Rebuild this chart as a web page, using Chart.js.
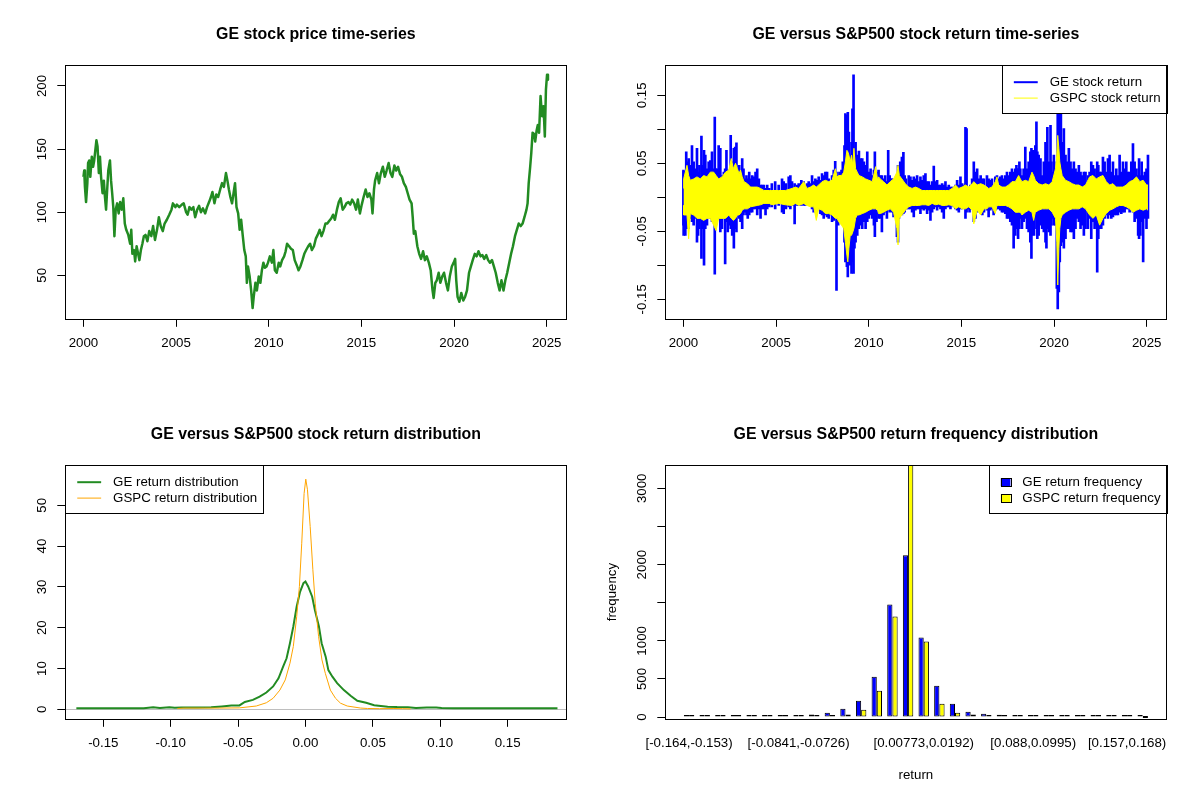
<!DOCTYPE html>
<html lang="en">
<head>
<meta charset="UTF-8">
<title>GE versus S&amp;P500</title>
<script src="https://cdn.jsdelivr.net/npm/chart.js"></script>
<style>
  body { margin: 0; background: #fff; }
  #wrap { position: relative; width: 1200px; height: 800px; }
  canvas { position: absolute; }
</style>
</head>
<body>
<div id="wrap">
  <canvas id="priceChart" width="600" height="400" style="left:0;top:0"></canvas>
  <canvas id="returnChart" width="600" height="400" style="left:600px;top:0"></canvas>
  <canvas id="densityChart" width="600" height="400" style="left:0;top:400px"></canvas>
  <canvas id="freqChart" width="600" height="400" style="left:600px;top:400px"></canvas>
</div>
<script>
// ---- data ----

// GE price (decimal year, price)
const priceYears = [
  2000.00,2000.04,2000.08,2000.12,2000.14,2000.21,2000.25,2000.31,2000.37,2000.45,
  2000.52,2000.58,2000.64,2000.70,2000.76,2000.83,2000.89,2000.95,2001.03,2001.10,
  2001.16,2001.22,2001.28,2001.34,2001.43,2001.49,2001.55,2001.61,2001.67,2001.74,
  2001.82,2001.90,2001.98,2002.07,2002.15,2002.23,2002.31,2002.42,2002.52,2002.58,
  2002.64,2002.73,2002.79,2002.87,2002.95,2003.02,2003.10,2003.18,2003.26,2003.35,
  2003.45,2003.55,2003.66,2003.76,2003.86,2003.97,2004.07,2004.17,2004.28,2004.38,
  2004.50,2004.63,2004.75,2004.83,2004.96,2005.04,2005.17,2005.31,2005.41,2005.54,
  2005.62,2005.72,2005.83,2005.93,2006.03,2006.14,2006.24,2006.34,2006.45,2006.57,
  2006.67,2006.78,2006.88,2006.96,2007.07,2007.17,2007.27,2007.38,2007.48,2007.58,
  2007.69,2007.77,2007.85,2007.93,2008.02,2008.10,2008.18,2008.26,2008.35,2008.43,
  2008.51,2008.60,2008.68,2008.76,2008.82,2008.88,2008.97,2009.05,2009.13,2009.19,
  2009.28,2009.36,2009.46,2009.55,2009.63,2009.71,2009.79,2009.88,2009.96,2010.06,
  2010.17,2010.25,2010.33,2010.43,2010.54,2010.62,2010.72,2010.83,2010.91,2010.99,
  2011.10,2011.20,2011.30,2011.40,2011.51,2011.61,2011.71,2011.82,2011.92,2012.02,
  2012.13,2012.23,2012.33,2012.44,2012.54,2012.64,2012.75,2012.85,2012.95,2013.06,
  2013.16,2013.26,2013.37,2013.47,2013.57,2013.68,2013.78,2013.88,2013.99,2014.09,
  2014.19,2014.30,2014.40,2014.50,2014.61,2014.71,2014.81,2014.92,2015.02,2015.12,
  2015.23,2015.33,2015.43,2015.54,2015.60,2015.68,2015.74,2015.85,2015.95,2016.05,
  2016.16,2016.26,2016.36,2016.47,2016.57,2016.67,2016.78,2016.88,2016.98,2017.09,
  2017.19,2017.29,2017.40,2017.50,2017.60,2017.71,2017.77,2017.83,2017.91,2018.02,
  2018.12,2018.22,2018.33,2018.43,2018.53,2018.64,2018.74,2018.84,2018.90,2018.99,
  2019.07,2019.17,2019.26,2019.36,2019.46,2019.57,2019.67,2019.77,2019.88,2019.98,
  2020.06,2020.12,2020.19,2020.29,2020.39,2020.50,2020.60,2020.70,2020.81,2020.91,
  2021.01,2021.12,2021.22,2021.32,2021.43,2021.53,2021.63,2021.74,2021.84,2021.94,
  2022.05,2022.15,2022.25,2022.36,2022.46,2022.56,2022.67,2022.77,2022.87,2022.98,
  2023.08,2023.18,2023.29,2023.39,2023.49,2023.60,2023.70,2023.80,2023.91,2023.97,
  2024.03,2024.11,2024.17,2024.24,2024.32,2024.38,2024.46,2024.52,2024.59,2024.67,
  2024.75,2024.83,2024.90,2024.96,2025.02,2025.07
];
const priceValues = [
  128,133,120,112,108,123,139,141,128,144,
  136,141,149,157,152,131,144,128,115,125,
  112,102,118,133,141,125,115,104,81,102,
  107,99,108,102,111,91,86,82,75,86,
  67,70,61,73,67,62,70,75,81,82,
  77,85,81,89,78,86,96,89,85,91,
  94,98,102,107,104,106,104,106,107,100,
  98,104,102,104,96,102,105,100,103,99,
  104,108,112,116,107,114,112,118,123,120,
  131,125,118,112,107,115,123,104,99,86,
  94,81,70,65,44,57,49,38,24,33,
  44,38,49,44,54,60,56,57,60,65,
  60,70,54,52,60,57,62,65,69,75,
  73,71,70,62,58,54,57,62,67,70,
  73,75,70,73,79,82,86,81,85,91,
  91,93,95,98,94,102,108,111,102,104,
  107,108,106,110,107,102,110,99,106,112,
  118,112,115,110,99,118,125,131,123,131,
  136,128,133,139,131,128,137,133,136,130,
  128,123,120,115,110,107,96,83,85,73,
  67,63,69,62,65,60,54,38,32,44,
  46,52,44,49,52,44,38,49,57,60,
  63,46,33,29,36,30,33,38,52,57,
  62,67,65,69,65,66,63,66,62,60,
  62,57,52,44,38,46,38,46,52,60,
  67,73,81,86,91,89,91,96,102,107,
  123,136,147,163,162,156,165,169,163,192,
  176,184,160,197,209,205
];

// GE daily return: upper and lower extent of the band
const geRetYears = [
  2000.00,2000.01,2000.10,2000.15,2000.23,2000.28,2000.37,2000.46,2000.55,2000.64,
  2000.73,2000.79,2000.86,2000.97,2001.04,2001.11,2001.18,2001.27,2001.36,2001.45,
  2001.54,2001.63,2001.69,2001.74,2001.81,2001.90,2001.99,2002.08,2002.18,2002.25,
  2002.32,2002.39,2002.46,2002.55,2002.63,2002.72,2002.79,2002.86,2002.93,2003.01,
  2003.08,2003.17,2003.24,2003.31,2003.40,2003.47,2003.55,2003.62,2003.71,2003.80,
  2003.89,2003.98,2004.07,2004.16,2004.25,2004.34,2004.43,2004.52,2004.63,
  2004.77,2004.95,2005.14,2005.32,2005.41,2005.53,2005.68,2005.77,2005.86,2006.00,
  2006.13,2006.22,2006.36,2006.49,2006.58,2006.67,2006.76,2006.85,2006.94,2007.03,
  2007.12,2007.21,2007.30,2007.39,2007.48,2007.57,2007.66,2007.75,2007.84,2007.93,
  2008.02,2008.11,2008.19,2008.26,2008.35,2008.42,2008.53,2008.60,2008.69,2008.74,
  2008.82,2008.87,2008.93,2009.00,2009.07,2009.12,2009.18,2009.23,2009.29,2009.38,
  2009.47,2009.56,2009.65,2009.74,2009.83,2009.92,2010.01,2010.10,2010.19,2010.28,
  2010.33,2010.42,
  2010.53,2010.62,2010.71,2010.80,2010.89,2010.98,2011.05,2011.13,2011.22,2011.27,
  2011.34,2011.43,2011.52,2011.58,2011.63,2011.70,2011.79,2011.87,2011.94,2012.01,
  2012.07,2012.16,2012.25,2012.34,2012.43,2012.52,2012.61,2012.70,2012.79,2012.88,
  2012.97,2013.06,2013.15,2013.24,2013.33,2013.42,2013.51,2013.60,2013.69,2013.78,
  2013.87,2013.96,2014.05,2014.14,2014.23,2014.32,2014.41,2014.50,2014.59,2014.68,
  2014.77,2014.86,2014.95,2015.04,2015.13,2015.22,2015.28,2015.35,2015.44,2015.49,
  2015.58,2015.67,2015.76,2015.85,2015.94,2016.04,2016.13,2016.22,
  2016.38,2016.47,2016.56,2016.65,2016.74,2016.83,2016.92,2017.01,2017.10,2017.19,
  2017.28,2017.37,2017.46,2017.55,2017.64,2017.73,2017.82,2017.91,2017.97,2018.02,
  2018.06,2018.13,2018.18,2018.27,2018.36,2018.45,2018.54,2018.63,2018.72,2018.78,
  2018.81,2018.87,2018.92,2018.99,2019.05,2019.10,2019.17,2019.27,2019.36,2019.45,
  2019.54,2019.59,2019.64,2019.72,2019.81,2019.86,2019.93,2019.99,2020.08,2020.15,
  2020.20,2020.26,2020.31,2020.37,2020.44,2020.53,2020.62,2020.71,2020.80,2020.89,
  2020.98,2021.07,2021.16,2021.25,2021.34,2021.43,2021.52,2021.61,2021.70,
  2021.83,2021.92,2022.01,2022.10,2022.19,2022.28,2022.33,2022.39,2022.46,2022.55,
  2022.64,2022.73,2022.82,2022.91,2023.00,2023.09,2023.18,2023.27,2023.36,2023.45,
  2023.54,2023.63,2023.72,2023.81,2023.90,2023.99,2024.08,2024.17,2024.26,2024.35,
  2024.45,2024.54,2024.59,2024.66,2024.73,2024.81,2024.90,2024.99,2025.07
];
const geRetHigh = [
  0.040,0.038,0.037,0.067,0.052,0.057,0.047,0.076,0.052,0.042,
  0.072,0.037,0.047,0.090,0.047,0.069,0.062,0.042,0.052,0.054,
  0.067,0.042,0.118,0.042,0.042,0.076,0.072,0.032,0.037,0.042,
  0.069,0.040,0.037,0.091,0.052,0.072,0.074,0.080,0.042,0.047,
  0.037,0.057,0.042,0.027,0.032,0.027,0.037,0.027,0.032,0.030,
  0.037,0.042,0.027,0.018,0.018,0.018,0.013,0.018,0.013,
  0.020,0.023,0.018,0.027,0.023,0.020,0.030,0.032,0.023,0.020,
  0.018,0.020,0.025,0.023,0.018,0.020,0.023,0.020,0.032,0.023,
  0.027,0.025,0.030,0.025,0.035,0.032,0.037,0.037,0.027,0.023,
  0.032,0.040,0.053,0.037,0.032,0.037,0.040,0.052,0.076,0.123,
  0.121,0.125,0.096,0.062,0.081,0.130,0.180,0.069,0.081,0.062,
  0.068,0.057,0.057,0.052,0.047,0.067,0.037,0.042,0.032,0.040,
  0.067,0.037,
  0.040,0.032,0.032,0.027,0.032,0.023,0.069,0.032,0.027,0.027,
  0.023,0.018,0.032,0.047,0.037,0.052,0.059,0.066,0.032,0.027,
  0.018,0.032,0.030,0.025,0.030,0.027,0.032,0.023,0.030,0.025,
  0.032,0.035,0.023,0.023,0.018,0.023,0.046,0.023,0.025,0.018,
  0.018,0.020,0.018,0.023,0.015,0.018,0.015,0.015,0.015,0.018,
  0.025,0.018,0.030,0.020,0.018,0.103,0.101,0.013,0.015,0.018,
  0.027,0.052,0.037,0.042,0.027,0.032,0.027,0.027,
  0.032,0.027,0.025,0.027,0.018,0.030,0.032,0.027,0.030,0.032,
  0.027,0.032,0.037,0.032,0.037,0.042,0.037,0.042,0.047,0.042,
  0.042,0.052,0.042,0.032,0.042,0.074,0.042,0.052,0.067,0.072,
  0.052,0.069,0.057,0.076,0.111,0.067,0.062,0.057,0.032,0.052,
  0.081,0.067,0.103,0.052,0.106,0.052,0.037,0.062,0.042,0.052,
  0.130,0.130,0.086,0.123,0.081,0.101,0.062,0.052,0.072,0.052,
  0.042,0.052,0.042,0.037,0.047,0.037,0.032,0.037,0.037,
  0.032,0.037,0.052,0.047,0.042,0.032,0.052,0.047,0.037,0.037,
  0.059,0.052,0.037,0.057,0.062,0.037,0.052,0.032,0.042,0.032,
  0.062,0.037,0.052,0.042,0.052,0.037,0.037,0.052,0.079,0.052,
  0.042,0.032,0.057,0.032,0.052,0.032,0.037,0.042,0.062
];
const geRetLow = [
  -0.041,-0.056,-0.056,-0.046,-0.036,-0.046,-0.031,-0.036,-0.041,-0.031,
  -0.066,-0.056,-0.046,-0.090,-0.046,-0.100,-0.046,-0.041,-0.031,-0.031,
  -0.036,-0.036,-0.113,-0.031,-0.031,-0.031,-0.051,-0.046,-0.031,-0.098,
  -0.036,-0.051,-0.041,-0.046,-0.056,-0.075,-0.046,-0.051,-0.026,-0.031,
  -0.036,-0.046,-0.026,-0.022,-0.026,-0.031,-0.026,-0.022,-0.022,-0.017,
  -0.017,-0.026,-0.017,-0.031,-0.017,-0.017,-0.026,-0.017,-0.014,
  -0.014,-0.017,-0.012,-0.022,-0.024,-0.017,-0.014,-0.017,-0.012,-0.039,
  -0.012,-0.012,-0.012,-0.012,-0.012,-0.007,-0.009,-0.012,-0.017,-0.022,
  -0.017,-0.019,-0.017,-0.024,-0.026,-0.031,-0.026,-0.029,-0.031,-0.026,
  -0.036,-0.034,-0.031,-0.137,-0.041,-0.036,-0.031,-0.034,-0.066,-0.095,
  -0.102,-0.117,-0.095,-0.100,-0.112,-0.095,-0.112,-0.075,-0.066,-0.056,
  -0.046,-0.041,-0.046,-0.036,-0.046,-0.036,-0.031,-0.026,-0.031,-0.041,
  -0.058,-0.036,
  -0.031,-0.031,-0.051,-0.026,-0.022,-0.031,-0.017,-0.022,-0.017,-0.022,
  -0.029,-0.026,-0.058,-0.066,-0.031,-0.026,-0.026,-0.024,-0.022,-0.017,
  -0.017,-0.017,-0.017,-0.022,-0.029,-0.019,-0.017,-0.017,-0.024,-0.017,
  -0.019,-0.017,-0.024,-0.019,-0.034,-0.022,-0.017,-0.014,-0.019,-0.014,
  -0.017,-0.022,-0.031,-0.017,-0.014,-0.014,-0.017,-0.012,-0.014,-0.017,
  -0.019,-0.022,-0.017,-0.017,-0.012,-0.031,-0.022,-0.017,-0.022,-0.012,
  -0.017,-0.036,-0.031,-0.022,-0.017,-0.022,-0.026,-0.022,
  -0.019,-0.029,-0.019,-0.017,-0.026,-0.019,-0.017,-0.017,-0.019,-0.022,
  -0.022,-0.024,-0.031,-0.031,-0.036,-0.041,-0.075,-0.056,-0.046,-0.031,
  -0.061,-0.046,-0.031,-0.046,-0.036,-0.031,-0.046,-0.051,-0.066,-0.090,
  -0.056,-0.036,-0.056,-0.031,-0.046,-0.061,-0.056,-0.041,-0.046,-0.051,
  -0.066,-0.075,-0.046,-0.051,-0.056,-0.041,-0.031,-0.041,-0.041,-0.134,
  -0.164,-0.139,-0.095,-0.071,-0.066,-0.075,-0.061,-0.046,-0.046,-0.051,
  -0.051,-0.061,-0.046,-0.031,-0.036,-0.046,-0.041,-0.056,-0.046,
  -0.046,-0.031,-0.061,-0.036,-0.046,-0.041,-0.110,-0.061,-0.046,-0.046,
  -0.041,-0.031,-0.026,-0.031,-0.026,-0.031,-0.029,-0.026,-0.026,-0.026,
  -0.022,-0.024,-0.022,-0.022,-0.017,-0.017,-0.022,-0.017,-0.022,-0.036,
  -0.031,-0.056,-0.061,-0.056,-0.036,-0.095,-0.031,-0.046,-0.031
];

// S&P500 (GSPC) daily return band
const spRetYears = [
  2000.00,2000.01,2000.19,2000.28,2000.37,2000.55,2000.73,2000.91,2001.09,2001.27,
  2001.45,2001.63,2001.76,2001.90,2002.08,2002.27,2002.45,2002.58,2002.69,2002.81,
  2002.91,2003.00,2003.08,2003.17,2003.27,2003.45,2003.62,2003.80,2003.98,2004.16,
  2004.34,2004.63,
  2004.77,2005.14,2005.50,2005.86,2006.04,2006.22,2006.49,2006.67,2006.85,2007.03,
  2007.17,2007.30,2007.48,2007.66,2007.84,2008.02,2008.20,2008.29,2008.38,2008.53,
  2008.65,2008.74,2008.82,2008.87,2008.93,2009.00,2009.07,2009.14,2009.20,2009.29,
  2009.38,2009.47,2009.65,2009.83,2010.01,2010.19,2010.37,2010.48,
  2010.53,2010.62,2010.80,2010.98,2011.16,2011.34,2011.52,2011.58,2011.65,2011.79,
  2011.97,2012.16,2012.34,2012.52,2012.70,2012.88,2013.06,2013.24,2013.42,2013.60,
  2013.78,2013.96,2014.14,2014.32,2014.50,2014.68,2014.86,2015.04,2015.22,2015.40,
  2015.58,2015.67,2015.85,2016.04,2016.22,
  2016.38,2016.47,2016.65,2016.83,2016.92,2017.01,2017.19,2017.37,2017.55,2017.73,
  2017.91,2018.09,2018.18,2018.27,2018.45,2018.63,2018.81,2018.90,2018.99,2019.17,
  2019.36,2019.54,2019.72,2019.90,2020.08,2020.15,2020.20,2020.26,2020.31,2020.37,
  2020.44,2020.62,2020.80,2020.98,2021.16,2021.34,2021.52,2021.70,
  2021.92,2022.10,2022.28,2022.46,2022.64,2022.82,2023.00,2023.18,2023.36,2023.54,
  2023.72,2023.90,2024.08,2024.26,2024.45,2024.63,2024.81,2024.99,2025.07
];
const spRetHigh = [
  0.013,0.027,0.047,0.032,0.025,0.027,0.030,0.027,0.032,0.030,
  0.037,0.037,0.032,0.027,0.030,0.037,0.040,0.057,0.042,0.050,
  0.042,0.035,0.040,0.030,0.023,0.020,0.015,0.015,0.015,0.013,
  0.010,0.010,
  0.010,0.010,0.010,0.013,0.015,0.013,0.023,0.013,0.015,0.018,
  0.015,0.018,0.023,0.025,0.023,0.025,0.042,0.030,0.032,0.032,
  0.037,0.052,0.069,0.067,0.062,0.052,0.062,0.047,0.072,0.042,
  0.037,0.032,0.030,0.027,0.025,0.023,0.045,0.025,
  0.030,0.027,0.023,0.018,0.023,0.027,0.037,0.047,0.032,0.027,
  0.020,0.015,0.013,0.015,0.013,0.010,0.010,0.010,0.010,0.010,
  0.010,0.010,0.010,0.010,0.013,0.018,0.013,0.015,0.018,0.015,
  0.020,0.023,0.018,0.020,0.018,
  0.015,0.013,0.015,0.023,0.030,0.018,0.015,0.015,0.018,0.023,
  0.023,0.032,0.027,0.023,0.025,0.023,0.037,0.032,0.025,0.020,
  0.018,0.020,0.018,0.023,0.042,0.062,0.091,0.072,0.052,0.042,
  0.032,0.025,0.023,0.020,0.018,0.018,0.015,0.018,
  0.030,0.032,0.027,0.030,0.032,0.023,0.018,0.020,0.015,0.015,
  0.015,0.018,0.023,0.025,0.030,0.023,0.025,0.018,0.018
];
const spRetLow = [
  -0.012,-0.026,-0.026,-0.061,-0.024,-0.026,-0.031,-0.031,-0.034,-0.031,
  -0.031,-0.041,-0.049,-0.031,-0.031,-0.031,-0.026,-0.031,-0.034,-0.031,
  -0.026,-0.026,-0.024,-0.019,-0.017,-0.017,-0.014,-0.013,-0.012,-0.011,
  -0.009,-0.009,
  -0.011,-0.009,-0.011,-0.012,-0.009,-0.012,-0.009,-0.012,-0.014,-0.014,
  -0.034,-0.017,-0.019,-0.024,-0.024,-0.026,-0.031,-0.031,-0.036,-0.041,
  -0.046,-0.066,-0.085,-0.095,-0.075,-0.056,-0.056,-0.051,-0.046,-0.031,
  -0.026,-0.026,-0.024,-0.022,-0.019,-0.017,-0.017,-0.019,
  -0.024,-0.024,-0.022,-0.019,-0.017,-0.022,-0.046,-0.070,-0.031,-0.026,
  -0.019,-0.014,-0.012,-0.012,-0.012,-0.011,-0.011,-0.012,-0.009,-0.011,
  -0.010,-0.012,-0.012,-0.011,-0.012,-0.017,-0.014,-0.017,-0.017,-0.014,
  -0.019,-0.039,-0.019,-0.026,-0.017,
  -0.017,-0.014,-0.014,-0.024,-0.012,-0.012,-0.012,-0.012,-0.014,-0.017,
  -0.022,-0.022,-0.022,-0.026,-0.022,-0.019,-0.022,-0.034,-0.022,-0.019,
  -0.017,-0.017,-0.017,-0.022,-0.031,-0.066,-0.129,-0.075,-0.046,-0.031,
  -0.026,-0.022,-0.019,-0.017,-0.017,-0.017,-0.014,-0.017,
  -0.026,-0.031,-0.026,-0.041,-0.031,-0.024,-0.019,-0.017,-0.014,-0.012,
  -0.012,-0.014,-0.017,-0.022,-0.019,-0.017,-0.019,-0.017,-0.019
];

// return densities
const densGeX = [
  -0.170,-0.150,-0.120,-0.113,-0.108,-0.101,-0.097,-0.092,-0.080,-0.070,
  -0.062,-0.055,-0.049,-0.045,-0.039,-0.034,-0.029,-0.024,-0.020,-0.0165,
  -0.014,-0.0115,-0.009,-0.0065,-0.004,-0.0015,0.000,0.002,0.005,0.007,
  0.010,0.012,0.015,0.017,0.020,0.0235,0.0285,0.0335,0.0385,0.045,
  0.051,0.061,0.068,0.076,0.082,0.090,0.097,0.101,0.110,0.130,
  0.160,0.187
];
const densGeY = [
  0.25,0.25,0.25,0.5,0.3,0.5,0.35,0.45,0.45,0.5,
  0.7,0.9,0.95,1.8,2.3,3.1,4.1,5.6,7.6,10.5,
  12.5,16.2,20.3,25.2,28.8,30.9,31.3,30.1,27.6,24.3,
  20.3,16.2,12.9,9.6,8.0,6.4,4.7,3.3,2.1,1.6,
  1.0,0.65,0.55,0.5,0.3,0.45,0.45,0.3,0.25,0.25,
  0.25,0.25
];
const densSpX = [
  -0.095,-0.090,-0.075,-0.064,-0.049,-0.0365,-0.029,-0.024,-0.019,
  -0.015,-0.0115,-0.009,-0.0065,-0.0045,-0.00275,-0.001,0.00025,0.0015,0.0035,
  0.0055,0.00725,0.00975,0.01225,0.01475,0.0185,0.0223,0.026,0.031,0.041,
  0.046,0.055,0.065,0.072,0.078
];
const densSpY = [
  0.2,0.3,0.3,0.3,0.35,0.8,1.6,2.7,4.7,
  7.2,11.3,15.4,22.7,30.1,40.7,52.9,56.4,53.8,44.8,
  34.2,26.0,17.8,12.1,8.8,4.7,2.7,1.5,0.8,0.3,
  0.2,0.15,0.2,0.15,0.1
];

// return frequency in 30 bins
const binLabels = [
  '[-0.164,-0.153)','[-0.153,-0.141)','[-0.141,-0.13)','[-0.13,-0.119)','[-0.119,-0.107)',
  '[-0.107,-0.0956)','[-0.0956,-0.0841)','[-0.0841,-0.0726)','[-0.0726,-0.0612)','[-0.0612,-0.0497)',
  '[-0.0497,-0.0382)','[-0.0382,-0.0268)','[-0.0268,-0.0153)','[-0.0153,-0.00382)','[-0.00382,0.00773)',
  '[0.00773,0.0192)','[0.0192,0.0307)','[0.0307,0.0421)','[0.0421,0.0536)','[0.0536,0.0651)',
  '[0.0651,0.0765)','[0.0765,0.088)','[0.088,0.0995)','[0.0995,0.111)','[0.111,0.122)',
  '[0.122,0.134)','[0.134,0.145)','[0.145,0.157)','[0.157,0.168)','[0.168,0.18)'
];
const binLabelShown = [0, 7, 15, 22, 28];
const geFreq = [2,1,1,5,4,4,7,7,35,58,110,215,530,1476,2124,1043,412,176,71,44,30,13,12,10,6,4,7,2,2,1];
const spFreq = [1,1,1,2,2,2,4,4,17,22,35,97,347,1318,3450,990,176,58,35,17,13,6,4,3,2,1,2,1,1,0];

// axis ticks
const yearTicks = [2000, 2005, 2010, 2015, 2020, 2025];
const yearLabels = ['2000', '2005', '2010', '2015', '2020', '2025'];
const priceTicks = [50, 100, 150, 200];
const priceLabels = ['50', '100', '150', '200'];
const retTicks = [-0.15, -0.10, -0.05, 0, 0.05, 0.10, 0.15];
const retLabels = ['-0.15', '', '-0.05', '', '0.05', '', '0.15'];
const densXTicks = [-0.15, -0.10, -0.05, 0, 0.05, 0.10, 0.15];
const densXLabels = ['-0.15', '-0.10', '-0.05', '0.00', '0.05', '0.10', '0.15'];
const densYTicks = [0, 10, 20, 30, 40, 50];
const densYLabels = ['0', '10', '20', '30', '40', '50'];
const freqTicks = [0, 500, 1000, 1500, 2000, 2500, 3000];
const freqLabels = ['0', '500', '1000', '', '2000', '', '3000'];

// ---- R-like look ----
const FONT = '"Liberation Sans", Arial, Helvetica, sans-serif';
Chart.defaults.font.family = FONT;
Chart.defaults.font.size = 13.3;
Chart.defaults.color = '#000';
Chart.defaults.animation = false;
Chart.defaults.plugins.legend.display = false;
Chart.defaults.plugins.tooltip.enabled = false;
Chart.defaults.elements.point.radius = 0;
Chart.defaults.elements.line.tension = 0;

// plot region inside every 600x400 panel
const PLOT = { left: 65.3, right: 566.5, top: 65.3, bottom: 318.8 };
const PAD = { top: PLOT.top, right: 600 - PLOT.right, bottom: 0, left: 0 };
const XCHAR = 11.95, YCHAR = 15.9;

const xy = (xs, ys) => xs.map((x, i) => ({ x: x, y: ys[i] }));

function axisX(min, max, ticks, labels, marks) {
  return {
    type: 'linear', min: min, max: max, offset: false,
    afterFit: s => { s.height = 400 - PLOT.bottom; },
    afterBuildTicks: s => { s.ticks = ticks.map(v => ({ value: v })); },
    grid: { display: marks, drawOnChartArea: false, drawTicks: true, tickLength: 8, color: '#000', offset: false },
    border: { display: false },
    ticks: { autoSkip: false, maxRotation: 0, minRotation: 0, padding: 9, color: '#000',
             callback: (v, i) => labels[i] }
  };
}

function axisY(min, max, ticks) {
  return {
    type: 'linear', min: min, max: max,
    afterFit: s => { s.width = PLOT.left; },
    afterBuildTicks: s => { s.ticks = ticks.map(v => ({ value: v })); },
    grid: { drawOnChartArea: false, drawTicks: true, tickLength: 8, color: '#000' },
    border: { display: false },
    ticks: { display: false }
  };
}

function drawLegend(ctx, a, lg) {
  ctx.font = '13.3px ' + FONT;
  const tw = Math.max(...lg.items.map(it => ctx.measureText(it.label).width));
  const lead = lg.boxes ? XCHAR + 0.8 * XCHAR + XCHAR : 4 * XCHAR;
  const w = tw + lead + 0.5 * XCHAR;
  const h = (lg.items.length + 1) * YCHAR;
  const left = lg.right ? a.right - w : a.left;
  const top = a.top;
  ctx.fillStyle = '#fff';
  ctx.fillRect(left, top, w, h);
  ctx.strokeStyle = '#000'; ctx.lineWidth = 1;
  ctx.strokeRect(Math.round(left) + 0.5, Math.round(top) + 0.5, Math.round(w), Math.round(h));
  lg.items.forEach((it, i) => {
    const y = top + YCHAR * (i + 1) + 1;
    if (lg.boxes) {
      ctx.fillStyle = it.color;
      ctx.fillRect(left + XCHAR, y - 4, 0.8 * XCHAR, 8);
      ctx.strokeStyle = '#000'; ctx.lineWidth = 1;
      ctx.strokeRect(Math.round(left + XCHAR) + 0.5, Math.round(y - 4) + 0.5, Math.round(0.8 * XCHAR), 8);
    } else {
      ctx.strokeStyle = it.color; ctx.lineWidth = it.width;
      ctx.beginPath(); ctx.moveTo(left + XCHAR, y); ctx.lineTo(left + 3 * XCHAR, y); ctx.stroke();
    }
    ctx.fillStyle = '#000'; ctx.textAlign = 'left'; ctx.textBaseline = 'middle';
    ctx.fillText(it.label, left + lead, y);
  });
}

function rPanel(o) {
  return {
    id: 'rPanel',
    beforeDatasetsDraw(chart) {
      if (o.hline === undefined) return;
      const a = chart.chartArea, ctx = chart.ctx;
      const y = Math.round(chart.scales.y.getPixelForValue(o.hline)) + 0.5;
      ctx.save();
      ctx.strokeStyle = '#bebebe'; ctx.lineWidth = 1;
      ctx.beginPath(); ctx.moveTo(a.left, y); ctx.lineTo(a.right, y); ctx.stroke();
      ctx.restore();
    },
    afterDraw(chart) {
      const ctx = chart.ctx, a = chart.chartArea, ys = chart.scales.y;
      const cx = (a.left + a.right) / 2;
      ctx.save();
      ctx.fillStyle = '#000'; ctx.textAlign = 'center'; ctx.textBaseline = 'middle';
      ctx.font = 'bold 15.9px ' + FONT;
      ctx.fillText(o.title, cx, 35);
      ctx.font = '13.3px ' + FONT;
      o.yTicks.forEach((v, i) => {
        if (!o.yLabels[i]) return;
        ctx.save();
        ctx.translate(42.5, ys.getPixelForValue(v));
        ctx.rotate(-Math.PI / 2);
        ctx.fillText(o.yLabels[i], 0, 0);
        ctx.restore();
      });
      if (o.xTitle) ctx.fillText(o.xTitle, cx, 375);
      if (o.yTitle) {
        ctx.save();
        ctx.translate(12, (a.top + a.bottom) / 2);
        ctx.rotate(-Math.PI / 2);
        ctx.fillText(o.yTitle, 0, 0);
        ctx.restore();
      }
      if (o.legend) drawLegend(ctx, a, o.legend);
      ctx.strokeStyle = '#000'; ctx.lineWidth = 1;
      ctx.strokeRect(Math.round(a.left) + 0.5, Math.round(a.top) + 0.5,
                     Math.round(a.right - a.left), Math.round(a.bottom - a.top));
      ctx.restore();
    }
  };
}

// ---- GE stock price ----
new Chart(document.getElementById('priceChart'), {
  type: 'line',
  data: { datasets: [{ data: xy(priceYears, priceValues), borderColor: '#228b22', borderWidth: 2.5,
                       borderJoinStyle: 'round', fill: false }] },
  options: {
    responsive: false, layout: { padding: PAD },
    scales: { x: axisX(1999.02, 2026.07, yearTicks, yearLabels, true), y: axisY(15.5, 216.4, priceTicks) }
  },
  plugins: [rPanel({ title: 'GE stock price time-series', yTicks: priceTicks, yLabels: priceLabels })]
});

// ---- GE vs S&P500 returns ----
// GE: one vertical stroke per sample from its low to its high; GSPC: filled band drawn on top
new Chart(document.getElementById('returnChart'), {
  type: 'line',
  data: { datasets: [
    { data: xy(spRetYears, spRetHigh), borderColor: '#ffff00', backgroundColor: '#ffff00',
      borderWidth: 1, fill: '+1' },
    { data: xy(spRetYears, spRetLow), borderColor: '#ffff00', borderWidth: 1, fill: false },
    { type: 'bar', data: geRetYears.map((x, i) => ({ x: x, y: [geRetLow[i], geRetHigh[i]] })),
      backgroundColor: '#0000ff', borderWidth: 0, barThickness: 2 }
  ] },
  options: {
    responsive: false, layout: { padding: PAD },
    scales: { x: axisX(1999.02, 2026.07, yearTicks, yearLabels, true), y: axisY(-0.1787, 0.1941, retTicks) }
  },
  plugins: [rPanel({
    title: 'GE versus S&P500 stock return time-series', yTicks: retTicks, yLabels: retLabels,
    legend: { right: true, items: [
      { label: 'GE stock return', color: '#0000ff', width: 2 },
      { label: 'GSPC stock return', color: '#ffff00', width: 1 }
    ] }
  })]
});

// ---- return distributions ----
new Chart(document.getElementById('densityChart'), {
  type: 'line',
  data: { datasets: [
    { data: xy(densSpX, densSpY), borderColor: '#ffa500', borderWidth: 1, fill: false },
    { data: xy(densGeX, densGeY), borderColor: '#228b22', borderWidth: 2, fill: false }
  ] },
  options: {
    responsive: false, layout: { padding: PAD },
    scales: { x: axisX(-0.1782, 0.1937, densXTicks, densXLabels, true), y: axisY(-2.33, 59.8, densYTicks) }
  },
  plugins: [rPanel({
    title: 'GE versus S&P500 stock return distribution', yTicks: densYTicks, yLabels: densYLabels, hline: 0,
    legend: { right: false, items: [
      { label: 'GE return distribution', color: '#228b22', width: 2 },
      { label: 'GSPC return distribution', color: '#ffa500', width: 1 }
    ] }
  })]
});

// ---- return frequency ----
const binX = axisX(-1.52, 30.52, binLabelShown, binLabelShown.map(i => binLabels[i]), false);
new Chart(document.getElementById('freqChart'), {
  type: 'bar',
  data: { datasets: [
    { data: geFreq.map((v, i) => ({ x: i, y: v })), backgroundColor: '#0000ff', borderColor: '#000',
      borderWidth: 1, borderSkipped: false, minBarLength: 2 },
    { data: spFreq.map((v, i) => ({ x: i, y: v })), backgroundColor: '#ffff00', borderColor: '#000',
      borderWidth: 1, borderSkipped: false, minBarLength: 2 }
  ] },
  options: {
    responsive: false, layout: { padding: PAD },
    barPercentage: 1, categoryPercentage: 2 / 3,
    scales: { x: binX, y: axisY(-22, 3302, freqTicks) }
  },
  plugins: [rPanel({
    title: 'GE versus S&P500 return frequency distribution', yTicks: freqTicks, yLabels: freqLabels,
    xTitle: 'return', yTitle: 'frequency',
    legend: { right: true, boxes: true, items: [
      { label: 'GE return frequency', color: '#0000ff' },
      { label: 'GSPC return frequency', color: '#ffff00' }
    ] }
  })]
});
</script>
</body>
</html>
